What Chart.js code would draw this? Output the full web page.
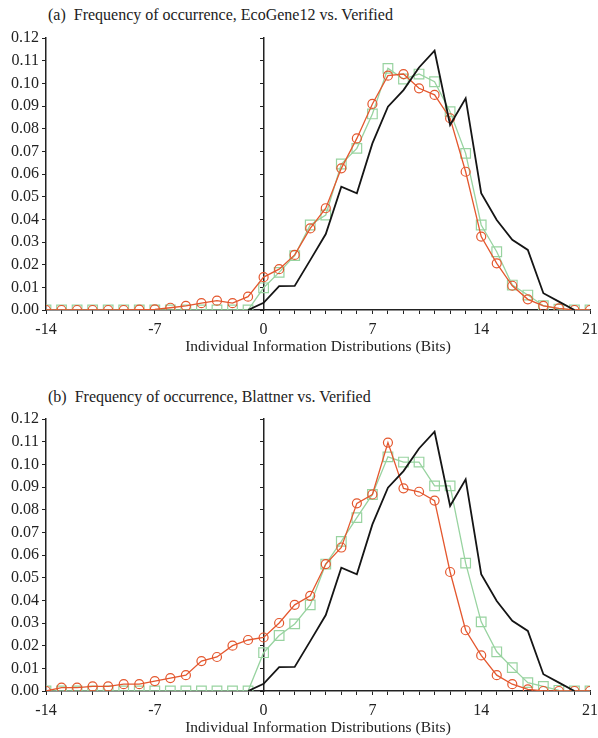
<!DOCTYPE html>
<html>
<head>
<meta charset="utf-8">
<script src="https://cdn.jsdelivr.net/npm/chart.js@4"></script>
<style>
  body { margin: 0; background: #fff; }
  #wrap { position: relative; width: 598px; height: 738px; }
  .title { position: absolute; left: 48px; font: 16px "Liberation Serif", serif; color: #222; white-space: pre; line-height: 18px; }
  canvas { position: absolute; left: 0; }
</style>
</head>
<body>
<div id="wrap">
  <div class="title" style="top:6px">(a)  Frequency of occurrence, EcoGene12 vs. Verified</div>
  <canvas id="chartA" width="598" height="360" style="top:0"></canvas>
  <div class="title" style="top:388px">(b)  Frequency of occurrence, Blattner vs. Verified</div>
  <canvas id="chartB" width="598" height="360" style="top:377px"></canvas>
</div>
<script>
// bits, -14 .. 21
const bits = [-14, -13, -12, -11, -10, -9, -8, -7, -6, -5, -4, -3, -2, -1,
  0, 1, 2, 3, 4, 5, 6, 7, 8, 9, 10, 11, 12, 13, 14, 15, 16, 17, 18, 19, 20, 21];

// black line, same in both panels (starts at -1, ends at 20)
const verified = [null, null, null, null, null, null, null, null, null, null, null, null, null, 0,
  0.0032, 0.0105, 0.0106, 0.022, 0.0335, 0.0544, 0.0515, 0.0735, 0.0897, 0.097, 0.107, 0.1144,
  0.0816, 0.0934, 0.0515, 0.0397, 0.031, 0.0265, 0.0074, 0.0037, 0, null];

// panel (a)
const ecoCircles = [0, 0, 0, 0, 0, 0, 0.0002, 0.0003, 0.001, 0.0018, 0.003, 0.0041, 0.003, 0.0059,
  0.0145, 0.018, 0.0243, 0.036, 0.0449, 0.0625, 0.0757, 0.0909, 0.1034, 0.1041, 0.0978, 0.0949,
  0.0846, 0.061, 0.0324, 0.0206, 0.0107, 0.0047, 0.0018, 0.0007, 0, 0];
const ecoSquares = [0, 0, 0, 0, 0, 0, 0, 0, 0, 0, 0, 0, 0, 0,
  0.0098, 0.0166, 0.024, 0.0375, 0.0419, 0.0644, 0.0713, 0.0865, 0.1066, 0.1019, 0.1041, 0.1007,
  0.0875, 0.0691, 0.0375, 0.0257, 0.011, 0.0066, 0.0019, 0.0004, 0, 0];

// panel (b)
const blattCircles = [0, 0.0015, 0.0015, 0.002, 0.002, 0.003, 0.003, 0.0044, 0.0057, 0.007, 0.0132, 0.015, 0.02, 0.0225,
  0.0236, 0.030, 0.038, 0.042, 0.056, 0.0633, 0.0828, 0.0867, 0.1096, 0.0894, 0.0879, 0.084,
  0.0525, 0.0268, 0.0157, 0.007, 0.003, 0.0007, 0, 0, 0, 0];
const blattSquares = [0, 0, 0, 0, 0, 0, 0, 0, 0, 0, 0, 0, 0, 0,
  0.0169, 0.0245, 0.0296, 0.038, 0.056, 0.066, 0.0765, 0.0867, 0.1033, 0.101, 0.101, 0.0905,
  0.0905, 0.0564, 0.0305, 0.0173, 0.0103, 0.0037, 0.002, 0.0003, 0, 0];

const xLabelEvery = 7;
const yTicks = [0.12, 0.01]; // max, step

const axisColor = "#222";
const serif = "'Liberation Serif', 'Times New Roman', serif";

function pts(ys) {
  return bits.map((b, i) => ({ x: b, y: ys[i] }));
}

function makeChart(id, circles, squares, padTop, padBottom) {
  const ctx = document.getElementById(id).getContext("2d");
  return new Chart(ctx, {
    type: "line",
    data: {
      datasets: [
        {
          data: pts(verified),
          borderColor: "#151515",
          borderWidth: 1.8,
          pointRadius: 0,
          spanGaps: false,
          order: 0
        },
        {
          data: pts(circles),
          borderColor: "#e4572e",
          borderWidth: 1.3,
          pointStyle: "circle",
          pointRadius: 4.5,
          pointBorderColor: "#e4572e",
          pointBackgroundColor: "rgba(0,0,0,0)",
          pointBorderWidth: 1.2,
          order: 1
        },
        {
          data: pts(squares),
          borderColor: "#98d3a0",
          borderWidth: 1.3,
          pointStyle: "rect",
          pointRadius: 6.8,
          pointBorderColor: "#98d3a0",
          pointBackgroundColor: "rgba(0,0,0,0)",
          pointBorderWidth: 1.2,
          order: 2
        }
      ]
    },
    options: {
      responsive: false,
      animation: false,
      layout: { padding: { top: padTop, bottom: padBottom, left: 0, right: 6 } },
      plugins: { legend: { display: false }, tooltip: { enabled: false } },
      scales: {
        x: {
          type: "linear",
          position: "bottom",
          min: bits[0],
          max: bits[bits.length - 1],
          afterFit: s => { s.height = 46; s.paddingRight = 0; s.paddingLeft = 0; },
          border: { color: axisColor, width: 1.5 },
          grid: { drawOnChartArea: false, tickLength: 4, color: axisColor },
          ticks: {
            stepSize: 1,
            autoSkip: false,
            maxRotation: 0,
            padding: 6,
            color: "#222",
            font: { family: serif, size: 16 },
            callback: v => (v % xLabelEvery === 0 ? String(v) : "")
          },
          title: {
            display: true,
            text: "Individual Information Distributions (Bits)",
            color: "#222",
            font: { family: serif, size: 15.5 },
            padding: 0
          }
        },
        y: {
          min: 0,
          max: yTicks[0],
          afterFit: s => { s.width = 46; },
          border: { color: axisColor, width: 1.5 },
          grid: { drawOnChartArea: false, tickLength: 4, color: axisColor },
          ticks: {
            stepSize: yTicks[1],
            padding: 3,
            color: "#222",
            font: { family: serif, size: 16 },
            callback: v => v.toFixed(2)
          }
        },
        y0: {
          axis: "y",
          position: { x: 0 },
          min: 0,
          max: yTicks[0],
          border: { color: axisColor, width: 1.5 },
          grid: { drawOnChartArea: false, tickLength: 3, color: axisColor },
          ticks: { stepSize: yTicks[1], display: false }
        }
      }
    }
  });
}

makeChart("chartA", ecoCircles, ecoSquares, 38, 4);
makeChart("chartB", blattCircles, blattSquares, 42, 0);
</script>
</body>
</html>
